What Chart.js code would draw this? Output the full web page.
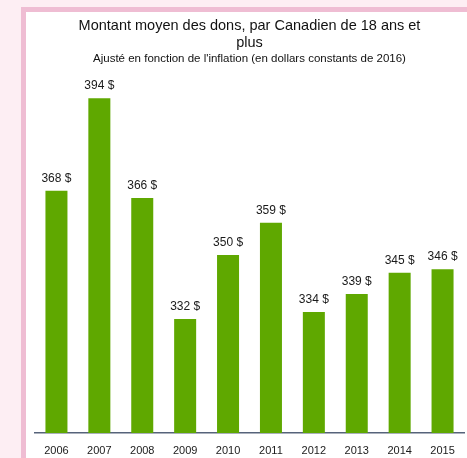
<!DOCTYPE html>
<html>
<head>
<meta charset="utf-8">
<script src="https://cdn.jsdelivr.net/npm/chart.js@4"></script>
<style>
  html, body { margin: 0; padding: 0; }
  body { width: 467px; height: 458px; background: #fdeef3; position: relative; overflow: hidden; }
  #frame { position: absolute; left: 21px; top: 7px; width: 460px; height: 470px; background: #ffffff; border: 5px solid #efbdd3; }
  #c { position: absolute; left: 0; top: 0; }
</style>
</head>
<body>
<div id="frame"></div>
<canvas id="c" width="467" height="458"></canvas>
<script>
const categories = ['2006','2007','2008','2009','2010','2011','2012','2013','2014','2015'];
const donations = [368, 394, 366, 332, 350, 359, 334, 339, 345, 346];
const titleLines = ['Montant moyen des dons, par Canadien de 18 ans et', 'plus'];
const subtitleText = "Ajusté en fonction de l'inflation (en dollars constants de 2016)";
const FONT = "'Liberation Sans', Arial, Helvetica, sans-serif";

const valueLabels = {
  id: 'valueLabels',
  afterDatasetsDraw(chart) {
    const ctx = chart.ctx;
    const meta = chart.getDatasetMeta(0);
    ctx.save();
    ctx.font = '12px ' + FONT;
    ctx.fillStyle = '#1a1a1a';
    ctx.textAlign = 'center';
    ctx.textBaseline = 'middle';
    meta.data.forEach((bar, i) => {
      ctx.fillText(donations[i] + ' $', bar.x, bar.y - 12);
    });
    ctx.restore();
  }
};

new Chart(document.getElementById('c'), {
  type: 'bar',
  data: {
    labels: categories,
    datasets: [{
      data: donations,
      backgroundColor: '#5fa800',
      borderWidth: 0,
      barPercentage: 0.513,
      categoryPercentage: 1
    }]
  },
  options: {
    responsive: false,
    animation: false,
    devicePixelRatio: 1,
    layout: { padding: { left: 35, right: 3, top: 0, bottom: 0 } },
    plugins: {
      legend: { display: false },
      tooltip: { enabled: false },
      title: {
        display: true,
        text: titleLines,
        fullSize: false,
        color: '#111111',
        font: { family: FONT, size: 14.5, weight: 'normal', lineHeight: 1.2 },
        padding: { top: 17.3, bottom: 0 }
      },
      subtitle: {
        display: true,
        text: subtitleText,
        fullSize: false,
        color: '#111111',
        font: { family: FONT, size: 11.5, weight: 'normal', lineHeight: 1.2 },
        padding: { top: 0, bottom: 10.9 }
      }
    },
    scales: {
      x: {
        grid: { display: false, drawTicks: false },
        border: { display: true, color: '#56637a', width: 1.5 },
        ticks: { color: '#1a1a1a', font: { family: FONT, size: 11 }, padding: 11, maxRotation: 0, autoSkip: false },
        afterFit(scale) { scale.height = 25; }
      },
      y: {
        display: false,
        min: 300,
        max: 400
      }
    }
  },
  plugins: [valueLabels]
});
</script>
</body>
</html>
